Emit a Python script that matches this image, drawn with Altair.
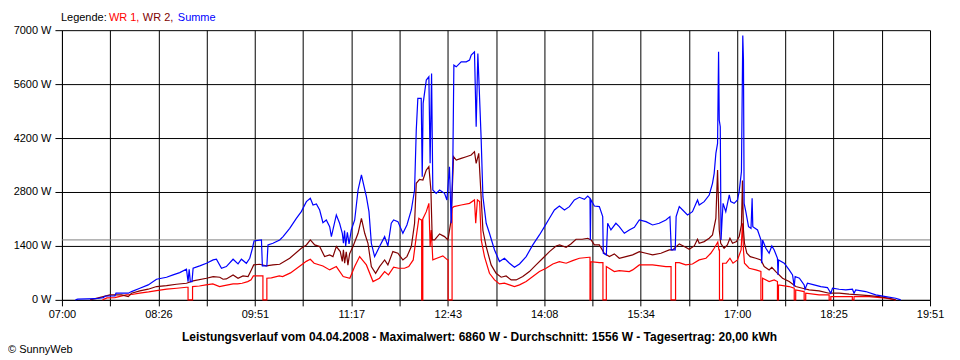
import json
import altair as alt
import pandas as pd

# time = minutes after 07:00, power in W
wr1 = [(36,0),(40,50),(47,60),(57,130),(62,140),(69,173),(77,207),(84,242),(93,277),(102,302),(110.6,328),
(112,328),(112,0),(116,0),(116,346),
(122,360),(128,389),(134,415),(140,346),(143,362),(152,415),(156,415),(160,432),(165,475),(168,520),(170,622),(178,622),
(178.5,622),(178.5,0),(182,0),(182,562),
(186,570),(193,622),(196,605),(203,700),(212.6,907),(217,1000),(220.6,1054),(224,951),(231.8,881),(237.8,778),(243.7,864),
(249.8,605),(255.7,562),(260,864),(264.4,1123),(270.4,907),(276.3,475),(282,562),(286.6,735),(290,648),(294.6,847),(299,821),
(304.3,821),(308,864),(312,1037),(314.7,1642),(317,2117),(319,2074),
(319.5,2074),(319.5,0),(320.5,0),(320.5,2100),
(323.6,2290),(325.9,2506),(327,1383),(328,1815),(329.4,1037),(333,1080),(338.3,1141),(342.5,1037),
(343,1037),(343,0),(346.5,0),(346.5,2380),
(348.1,2420),(354.6,2463),(362,2506),(366.4,2593),(367.5,1988),(369,2593),(371,2550),(372.4,1556),(375.3,1123),(379.7,691),
(384.2,518),(388.6,415),(393,432),(397.5,389),(401.9,346),(406.4,389),(412.3,475),(418.2,605),(424.1,735),(430,821),(436,933),
(441.8,994),(447.8,951),(453.6,1020),(459.6,1080),(468.4,1106),
(469,1106),(469,0),(469.8,0),(469.8,994),
(477.3,968),(480.5,968),(480.5,0),(483.5,0),(483.5,864),
(490.6,735),(495,760),(503.9,735),(506.9,778),(512.8,907),(524.6,907),(536.4,864),(541,864),(541,0),(545,0),(545,968),
(548.3,968),(554,907),(560,930),(566,1037),(572,1080),(576.3,1210),(579.3,1340),(581,1426),(582.5,1500),(583.5,1300),
(584,1300),(584,0),(586.8,0),(586.8,951),
(590,951),(593.3,1080),(596,951),(600,1037),(603.2,1296),(604.4,1988),(605.3,1296),(606.2,951),(610.4,821),(616.3,778),
(620.8,735),(620.8,0),(622.3,0),(622.3,562),
(628.1,475),(632.6,518),(635.5,475),(635.5,0),(636.4,0),(636.4,389),
(645.9,346),(650.4,302),(650.4,0),(651.7,0),(651.7,259),
(659.2,216),(659.2,0),(660.6,0),(660.6,173),
(672.5,130),(681.4,130),(681.4,0),(682.9,0),(682.9,86),
(702,86),(702,0),(703.5,0),(703.5,86),
(716.9,86),(731.7,43),(740.5,0)]

wr2 = [(25,0),(36.7,86),(42.6,130),(53,130),(58.9,86),(61.8,173),(69.2,233),(76.6,277),(84,346),(92.9,371),(101.7,406),
(110.6,432),(116.5,492),(128.4,562),(134.3,605),(140.2,588),(143.1,536),(146,544),(152,648),(156.4,562),(160.8,622),
(165.3,605),(168.2,778),(170.3,907),(175.6,925),(181.5,881),(187.4,907),(193.4,925),(202.3,1080),(212.6,1340),(217.1,1426),
(220.6,1556),(224.5,1426),(228.9,1383),(233.3,1123),(237.8,1167),(240.7,1123),(243.7,1383),(247.2,1253),(249,1000),
(250,1300),(251.1,951),(252.5,1250),(254,900),(255.5,1200),(258.5,1383),(263,1728),(266,2117),(268.9,1728),(271.8,1469),
(274.8,864),(278.6,691),(282.1,864),(286.6,1037),(289.5,907),(293.9,1253),(298.4,1210),(302.8,1037),(306.4,1123),
(310.3,1383),(313.2,1988),(314.7,3025),(317.6,3128),(320.6,3111),(323.6,3370),(325.9,3457),(327.7,2852),(328.9,1556),
(331,1556),(335.4,1711),(339.8,1642),(342.8,1556),(345.7,2074),(347.8,3716),(350.2,3630),(354.6,3673),(359.1,3716),
(363.5,3759),(366.4,3846),(367.9,3543),(370.2,3803),(372.3,2679),(373.9,1800),(376.8,1383),(381.2,907),(385.6,691),
(390.1,588),(394.5,622),(399,518),(403.4,518),(409.3,605),(415.2,735),(421.1,907),(427.1,1080),(433,1253),(438.9,1400),
(442,1426),(447.8,1365),(452,1452),(456.6,1573),(462,1573),(467,1599),(470,1556),(472.9,1426),(477.3,1426),(481.7,1210),
(486.2,1123),(490.6,1193),(495,1080),(500.9,1123),(506.9,1167),(512.8,1253),(518.7,1210),(524.6,1167),(532,1210),
(539.4,1296),(542.4,1296),(548.3,1452),(552.7,1383),(557.1,1314),(561.6,1400),(564.5,1573),(566,1469),(570.4,1512),
(574.9,1599),(577.8,1685),(580.8,2117),(582.3,3370),(583.8,1815),(585.1,1469),(588.1,1340),(591,1426),(593.3,1599),
(595.6,1469),(599.1,1512),(601.5,1642),(603.5,1944),(604.4,3100),(605.3,1815),(606.2,1469),(608.3,1210),(611.3,1123),
(616.3,1080),(620.8,1037),(623.7,864),(628.1,778),(630.5,847),(634,735),(640,562),(645.9,475),(651.8,346),(657.7,302),
(663.6,259),(672.5,233),(681.4,173),(690.3,173),(699.1,147),(708,130),(716.9,112),(725.8,86),(734.6,43),(740.5,0)]

summe = [(12,0),(14,20),(30,30),(36.7,60),(38.5,100),(47,100),(48,173),(59,173),(61.8,215),(69.2,302),(76.6,389),(84,536),
(92.9,588),(98.7,648),(104.6,708),(110.6,795),(112,475),(113,795),(114,475),(115.5,475),(116.5,821),(122.4,881),(128.4,951),
(134.3,1037),(137.2,1055),(141.7,821),(146,864),(152,1055),(156.4,933),(159.4,1055),(163.8,950),(166.8,1080),(169.2,1340),
(170.6,1530),(177.2,1556),(178,881),(182,881),(183,1426),(187.4,1469),(193.4,1556),(196.4,1642),(202.3,1858),(208.2,2117),
(212.6,2290),(217.1,2549),(220.6,2636),(223,2463),(226,2489),(228.9,2333),(231.8,2005),(234.8,2074),(237.8,1901),
(239.3,1642),(243.7,2204),(246.6,1988),(249,1728),(250,1469),(251,1800),(252,1400),(253.5,1750),(255,1450),(257,1815),
(260,2074),(263,2852),(266,3241),(269,2852),(270.4,2679),(272.7,2290),(274.8,1469),(277.7,1123),(282.1,1383),(286.6,1642),
(289.5,1400),(292.5,1988),(294.6,2074),(298.4,2031),(302.8,1728),(306.4,1944),(310.3,2333),(313.2,2852),(314.7,4407),
(316.1,5228),(319.1,5228),(320,3197),(320.8,5099),(323.6,5704),(325.9,5790),(327,3543),(328.3,5876),(329.4,2852),
(332.4,2765),(335.4,2852),(339.8,2765),(341.9,2593),(344.2,3457),(345.7,1988),(347.2,3630),(348.1,6092),(350.2,6049),
(354.6,6179),(359.1,6179),(362,6222),(363.5,6352),(366.4,6438),(367.9,4494),(369.4,6395),(370.9,5272),(372.3,4200),
(373.9,2679),(376.8,1988),(379.7,1728),(384.2,1296),(388.6,994),(393,1080),(397.5,951),(401.9,847),(406.4,933),
(412.3,1123),(418.2,1426),(424.1,1685),(428.6,1901),(433,2117),(437.4,2333),(441.8,2437),(446.3,2333),(450.7,2420),
(455.1,2593),(459.6,2662),(464,2610),(467,2696),(469,2636),(469.3,1556),(469.8,2600),(472.9,2437),(477.3,2420),
(480.3,2160),(480.8,1210),(483.5,1167),(484.7,1988),(487.6,1815),(492,1988),(495,1901),(499.5,1728),(503.9,1815),
(508.4,1884),(512.8,2074),(518.7,2031),(524.6,1944),(530.5,1988),(536.4,2074),(540,2160),(541.2,1296),(544.7,1296),
(545.5,2160),(548.3,2420),(551.3,2333),(555.6,2204),(560,2290),(564.5,2593),(566,2463),(570.4,2549),(574.9,2722),
(577.8,3025),(579.3,3284),(580.8,3803),(582.3,4062),(583.2,6438),(583.8,4667),(584.7,4494),(585.4,1556),(586.3,2074),
(587.2,2506),(589.6,2290),(592.7,2722),(594,2549),(597,2506),(600,2593),(601.5,2809),(603.5,3327),(604.7,6860),
(605.3,6222),(605.9,2506),(607.4,2290),(609.8,1901),(612,1858),(613,2636),(613.6,1901),(617.8,1815),(620.8,1556),
(621.5,951),(622.3,1556),(625.2,1340),(628.1,1210),(630.5,1400),(632.6,1296),(635.5,1080),(636,648),(636.5,1037),
(641.5,951),(645.9,778),(648.9,648),(650.4,346),(651.2,605),(655,562),(659.2,389),(660,276),(662.1,432),(668,389),
(674,346),(679.9,320),(682.9,173),(684.4,302),(690.3,276),(696.2,259),(702.1,276),(703.5,173),(705,259),(713.9,216),
(722.8,130),(731.7,86),(740.5,43),(745,0)]

series_names = ["WR 1", "WR 2", "Summe"]
series_colors = ["#ff0000", "#800000", "#0000ff"]
average_w = 1556

x_tick_labels = ["07:00", "08:26", "09:51", "11:17", "12:43", "14:08", "15:34", "17:00", "18:25", "19:51"]
y_tick_values = [0, 1400, 2800, 4200, 5600, 7000]
y_tick_labels = ["0 W", "1400 W", "2800 W", "4200 W", "5600 W", "7000 W"]

legend_texts = ["Legende:", "WR 1,", "WR 2,", "Summe"]
legend_colors = ["#000000", "#ff0000", "#800000", "#0000ff"]
title_text = "Leistungsverlauf vom 04.04.2008 - Maximalwert: 6860 W - Durchschnitt: 1556 W - Tagesertrag: 20,00 kWh"
footer_text = "\u00a9 SunnyWeb"

FONT = "Liberation Sans"
T_END = 771  # 07:00 .. 19:51 in minutes
x_ticks = [i * T_END / 18 for i in range(19)]

rows = []
for name, data in zip(series_names, [wr1, wr2, summe]):
    for i, (t, w) in enumerate(data):
        rows.append({"serie": name, "t": t, "w": w, "i": i})
df = pd.DataFrame(rows)

x_expr = ("(round(datum.value*18/%d) %% 2 == 0) ? %s[round(datum.value*18/%d)/2] : ''"
          % (T_END, json.dumps(x_tick_labels).replace('"', "'"), T_END))
y_expr = "%s[round(datum.value/1400)]" % json.dumps(y_tick_labels).replace('"', "'")

x_enc = alt.X("t:Q", scale=alt.Scale(domain=[0, T_END], nice=False, zero=False),
              axis=alt.Axis(values=x_ticks, labelExpr=x_expr, title=None, grid=True,
                            gridColor="black", gridOpacity=1, gridWidth=1,
                            domainColor="black", tickColor="black", tickSize=6,
                            labelFont=FONT, labelFontSize=11, labelColor="black",
                            labelPadding=3, labelFlush=False, labelOverlap=False))
y_enc = alt.Y("w:Q", scale=alt.Scale(domain=[0, 7000], nice=False),
              axis=alt.Axis(values=y_tick_values, labelExpr=y_expr, title=None, grid=True,
                            gridColor="black", gridOpacity=1, gridWidth=1,
                            domainColor="black", tickColor="black", tickSize=7,
                            labelFont=FONT, labelFontSize=11, labelColor="black",
                            labelPadding=4, labelFlush=False, labelOverlap=False))

one = alt.Data(values=[{"w": average_w}])
avg = alt.Chart(one).mark_rule(color="#808080", strokeWidth=1).encode(y=alt.Y("w:Q"))

layers = [avg]
for name, col in zip(series_names, series_colors):
    layers.append(
        alt.Chart(df).transform_filter(alt.datum.serie == name)
        .mark_line(color=col, strokeWidth=1.2, interpolate="linear")
        .encode(x=x_enc, y=y_enc, order="i:Q")
    )


def label(txt, col, x, y, align="left", weight="normal", size=11):
    return (alt.Chart(alt.Data(values=[{}]))
            .mark_text(text=txt, color=col, font=FONT, fontSize=size, align=align,
                       baseline="alphabetic", fontWeight=weight)
            .encode(x=alt.value(x), y=alt.value(y)))


legend_x = [-1, 47, 81, 116]
for txt, col, lx in zip(legend_texts, legend_colors, legend_x):
    layers.append(label(txt, col, lx, -9))
layers.append(label(title_text, "black", 418, 311, align="center", weight="bold", size=12))
layers.append(label(footer_text, "black", -54, 323))

chart = alt.layer(*layers).properties(
    width=869, height=270,
    autosize=alt.AutoSizeParams(type="none"),
    padding={"left": 54, "top": 22, "right": 22, "bottom": 56},
    background="white",
).configure_view(stroke=None)

chart.save("out.html", embed_options={"renderer": "svg", "actions": False})
